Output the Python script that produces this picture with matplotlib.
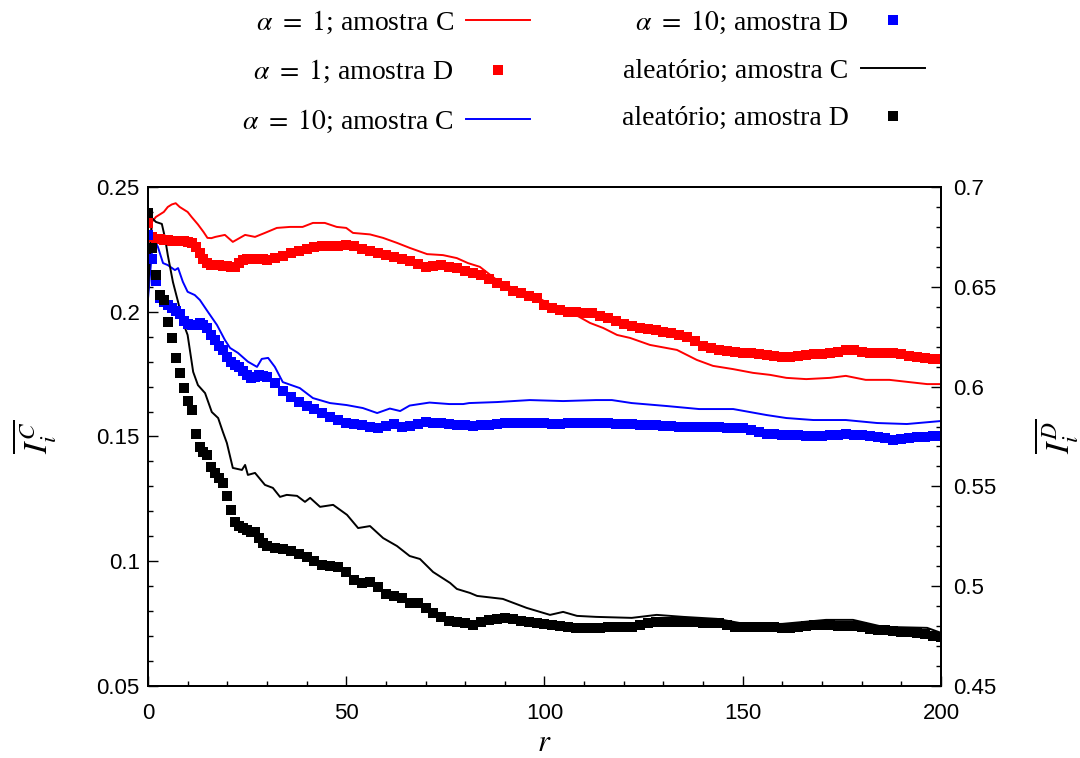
import matplotlib
matplotlib.use('Agg')
import matplotlib.pyplot as plt
from matplotlib.ticker import MultipleLocator, FuncFormatter

plt.rcParams['font.family'] = ['Liberation Serif', 'DejaVu Serif']
plt.rcParams['mathtext.fontset'] = 'stix'

# amostra C (eixo esquerdo), linhas
r_a1_C = [0, 1, 2, 3, 4, 5, 6, 7, 8, 9, 10, 11, 12.6, 14, 15, 16, 17, 19.4, 21.4, 24.5, 27, 29.5,
          32.5, 35.8, 39, 41.6, 44.6, 47.6, 50, 51.7, 56, 59.3, 62.8, 66, 70.4, 74.4, 77.9, 80.7,
          83.7, 88, 93, 98, 103, 107, 111.5, 114.8, 118.3, 121.6, 126.6, 133.4, 138.4, 142.5,
          147.6, 152.6, 156.9, 161, 166, 172, 176, 181, 187, 192, 196.5, 200]
Ic_a1 = [0.215, 0.236, 0.238, 0.239, 0.240, 0.242, 0.243, 0.2435, 0.242, 0.241, 0.240, 0.238,
         0.235, 0.232, 0.2296, 0.2295, 0.230, 0.2308, 0.228, 0.2308, 0.230, 0.2316,
         0.2336, 0.234, 0.234, 0.2356, 0.2356, 0.234, 0.2336, 0.2316, 0.231, 0.2296, 0.2276,
         0.2256, 0.2231, 0.2227, 0.2215, 0.2195, 0.218, 0.2127, 0.2087, 0.206, 0.2015, 0.1995,
         0.1955, 0.1935, 0.1907, 0.1895, 0.1867, 0.1847, 0.1807, 0.1783, 0.177, 0.1755,
         0.1747, 0.1735, 0.173, 0.1735, 0.1743, 0.1727, 0.1727, 0.1718, 0.171, 0.171]

r_a10_C = [0, 1, 2, 2.5, 3.8, 5, 6.8, 7.6, 8.8, 10, 11.8, 13.1, 15.1, 17.4, 19.4, 20.7, 22.7,
           25.2, 27.5, 28.7, 30.3, 32, 34, 38.3, 41.6, 45.9, 50.1, 54.2, 57.8, 61, 63.6, 66,
           71, 76, 79.5, 81, 88, 96.3, 104.7, 113, 117, 122, 130.9, 139, 147.6, 156, 161,
           167.8, 176, 183.9, 191.4, 200]
Ic_a10 = [0.205, 0.224, 0.2276, 0.226, 0.2195, 0.2187, 0.2167, 0.2175, 0.212, 0.208, 0.2067,
          0.2047, 0.200, 0.1947, 0.1887, 0.1855, 0.1835, 0.180, 0.1779, 0.1811, 0.1815,
          0.1779, 0.1718, 0.1694, 0.1654, 0.1634, 0.1626, 0.1614, 0.1594, 0.1612, 0.1602,
          0.1624, 0.1636, 0.163, 0.163, 0.1634, 0.1638, 0.1646, 0.1642, 0.1646, 0.1646,
          0.1634, 0.1622, 0.161, 0.161, 0.1586, 0.1574, 0.1566, 0.1566, 0.1554, 0.155, 0.1562]

r_ale_C = [0, 1, 2, 3.5, 4.3, 5, 6.3, 7.6, 8.8, 10, 11.4, 12.6, 14.4, 16.1, 17.7, 18.9, 19.9,
           21.4, 23.7, 24.5, 25.2, 27, 29.5, 31.5, 33.3, 35, 37.6, 39.6, 40.9, 43.4, 46.7,
           50.2, 53, 56, 59.3, 62.8, 66, 68.6, 71.9, 76.2, 77.9, 81.2, 83, 89.5, 95.5, 101.4,
           104.7, 108.2, 113, 122, 128.3, 135, 143.5, 151.8, 160, 171, 177.8, 185.4, 196.5, 200]
Ic_ale = [0.207, 0.2376, 0.236, 0.2352, 0.2296, 0.2227, 0.2119, 0.2039, 0.1959, 0.1907,
          0.1759, 0.1706, 0.1674, 0.1598, 0.1574, 0.1518, 0.1474, 0.1374, 0.1366, 0.1386,
          0.1346, 0.1354, 0.1306, 0.1294, 0.1258, 0.1266, 0.1262, 0.1238, 0.1254, 0.1218,
          0.1226, 0.1186, 0.1133, 0.1141, 0.1093, 0.1061, 0.1021, 0.1009, 0.0957, 0.0913,
          0.0889, 0.0873, 0.0861, 0.0849, 0.0813, 0.0785, 0.0797, 0.0781, 0.0777, 0.0773,
          0.0785, 0.0777, 0.0769, 0.0745, 0.0749, 0.0765, 0.0765, 0.0737, 0.0733, 0.0713]

# amostra D (eixo direito), quadrados
r_D = list(range(0, 31)) + list(range(32, 201, 2))
Id_a1 = [0.682, 0.675, 0.674, 0.674, 0.6735, 0.6735, 0.673, 0.673, 0.673, 0.673, 0.6725,
         0.672, 0.670, 0.667, 0.664, 0.662, 0.661, 0.661, 0.661, 0.6605, 0.6605, 0.660,
         0.660, 0.662, 0.6635, 0.664, 0.664, 0.664, 0.664, 0.6638, 0.6636,
         0.6642, 0.6655, 0.6668, 0.668, 0.669, 0.6698, 0.6704, 0.6706, 0.6706, 0.671,
         0.6705, 0.6688, 0.668, 0.667, 0.666, 0.665, 0.664, 0.663, 0.6615, 0.660,
         0.6602, 0.661, 0.660, 0.6594, 0.658, 0.657, 0.656, 0.654, 0.652, 0.6502,
         0.648, 0.647, 0.6455, 0.6444, 0.641, 0.6394, 0.6385, 0.6375, 0.6372, 0.637,
         0.6368, 0.6355, 0.6345, 0.633, 0.6315, 0.6305, 0.6296, 0.629, 0.6282, 0.6276,
         0.627, 0.6258, 0.6248, 0.623, 0.6205, 0.6192, 0.6185, 0.6178, 0.6173, 0.617,
         0.6168, 0.6165, 0.6158, 0.6152, 0.6148, 0.615, 0.6154, 0.6158, 0.6162, 0.6165,
         0.6168, 0.6175, 0.6182, 0.6183, 0.6172, 0.6168, 0.6168, 0.6168, 0.6168, 0.6162,
         0.6155, 0.6148, 0.6143, 0.614, 0.6138]
Id_a10 = [0.676, 0.664, 0.653, 0.6445, 0.6424, 0.641, 0.6394, 0.638, 0.6365, 0.633, 0.6315,
          0.631, 0.631, 0.6318, 0.631, 0.6295, 0.626, 0.6234, 0.6205, 0.6185, 0.615, 0.6124,
          0.611, 0.6098, 0.608, 0.606, 0.6043, 0.6048, 0.6058, 0.6055, 0.6048,
          0.602, 0.598, 0.595, 0.5925, 0.5905, 0.5888, 0.5868, 0.585, 0.5832, 0.582,
          0.5812, 0.5806, 0.580, 0.5793, 0.5805, 0.5812, 0.580, 0.5805, 0.5815, 0.5822,
          0.582, 0.5818, 0.5815, 0.581, 0.5806, 0.5803, 0.5806, 0.581, 0.5813, 0.5816,
          0.5818, 0.582, 0.582, 0.5818, 0.5816, 0.5815, 0.5815, 0.5816, 0.5818, 0.582,
          0.582, 0.5818, 0.5816, 0.5815, 0.5814, 0.5812, 0.581, 0.5808, 0.5806, 0.5805,
          0.5803, 0.580, 0.5798, 0.5798, 0.5797, 0.5796, 0.5796, 0.5795, 0.5795, 0.5793,
          0.5785, 0.5775, 0.5765, 0.576, 0.5758, 0.5756, 0.5755, 0.5754, 0.5753, 0.5753,
          0.5756, 0.5758, 0.576, 0.5757, 0.5755, 0.575, 0.5745, 0.574, 0.5733, 0.5735,
          0.574, 0.5745, 0.5748, 0.575, 0.5753]
Id_ale = [0.687, 0.6694, 0.6559, 0.6459, 0.6434, 0.6324, 0.6243, 0.6143, 0.6068, 0.5993,
          0.5928, 0.5883, 0.5763, 0.5697, 0.5672, 0.5657, 0.5597, 0.5567, 0.5542, 0.5517,
          0.5452, 0.5382, 0.5322, 0.5302, 0.5292, 0.5282, 0.5272, 0.5272, 0.5242, 0.5216,
          0.5201,
          0.519, 0.5185, 0.5175, 0.516, 0.5145, 0.5125, 0.5105, 0.5103, 0.5095, 0.507,
          0.503, 0.5018, 0.502, 0.4995, 0.496, 0.495, 0.4942, 0.4918, 0.4918, 0.489,
          0.4865, 0.4845, 0.4828, 0.482, 0.4816, 0.4808, 0.482, 0.4832, 0.4838, 0.4842,
          0.4838, 0.4828, 0.4822, 0.4815, 0.481, 0.4806, 0.4802, 0.4795, 0.479, 0.479,
          0.4792, 0.4792, 0.4795, 0.4797, 0.4797, 0.4797, 0.4805, 0.4815, 0.482, 0.4822,
          0.482, 0.482, 0.4822, 0.482, 0.4818, 0.4816, 0.4814, 0.4805, 0.4798, 0.4796,
          0.4796, 0.4796, 0.4796, 0.4794, 0.479, 0.479, 0.4795, 0.480, 0.4805, 0.4806,
          0.4805, 0.4802, 0.480, 0.480, 0.4795, 0.4788, 0.4783, 0.478, 0.4776, 0.4772,
          0.4768, 0.4765, 0.476, 0.4752, 0.4746]

labels = [r'$\alpha\ =\ 1$; amostra C', r'$\alpha\ =\ 1$; amostra D', r'$\alpha\ =\ 10$; amostra C',
          r'$\alpha\ =\ 10$; amostra D', 'aleatório; amostra C', 'aleatório; amostra D']

fig = plt.figure(figsize=(10.8, 7.58), dpi=100)
ax = fig.add_axes([0.137, 0.095, 0.7343, 0.6583])
ax2 = ax.twinx()

lw = 1.4
ms = 7.4
l1, = ax.plot(r_a1_C, Ic_a1, color='#ff0000', lw=lw)
l2, = ax.plot(r_a10_C, Ic_a10, color='#0000ff', lw=lw)
l3, = ax.plot(r_ale_C, Ic_ale, color='black', lw=lw)
s1, = ax2.plot(r_D, Id_a1, 's', color='#ff0000', ms=ms, mew=0)
s2, = ax2.plot(r_D, Id_a10, 's', color='#0000ff', ms=ms, mew=0)
s3, = ax2.plot(r_D, Id_ale, 's', color='black', ms=ms, mew=0)

ax.set_xlim(0, 200)
ax.set_ylim(0.05, 0.25)
ax2.set_ylim(0.45, 0.7)

fmt = FuncFormatter(lambda v, p: '%g' % round(v, 4))
ax.xaxis.set_major_locator(MultipleLocator(50))
ax.xaxis.set_minor_locator(MultipleLocator(10))
ax.yaxis.set_major_locator(MultipleLocator(0.05))
ax.yaxis.set_minor_locator(MultipleLocator(0.01))
ax2.yaxis.set_major_locator(MultipleLocator(0.05))
ax2.yaxis.set_minor_locator(MultipleLocator(0.01))
for a in (ax.xaxis, ax.yaxis, ax2.yaxis):
    a.set_major_formatter(fmt)

for a in (ax, ax2):
    a.tick_params(which='both', direction='in', width=1.0, labelsize=16,
                  labelfontfamily='Liberation Sans')
    a.tick_params(which='major', length=7)
    a.tick_params(which='minor', length=3.6)
    for s in a.spines.values():
        s.set_linewidth(1.4)
ax.tick_params(axis='y', pad=6)
ax.tick_params(axis='x', pad=12)
ax2.tick_params(axis='y', pad=9)

ax.set_xlabel(r'$r$', fontsize=22, labelpad=4)
ax.set_ylabel(r'$\overline{I_i^C}$', fontsize=24, labelpad=27)
ax2.set_ylabel(r'$\overline{I_i^D}$', fontsize=24, labelpad=26)

fig.legend([l1, s1, l2, s2, l3, s3], labels, loc='upper center', bbox_to_anchor=(0.54, 1.003),
           ncol=2, frameon=False, markerfirst=False, fontsize=20, handlelength=2.3,
           handletextpad=0.45, columnspacing=3.3, labelspacing=0.8, borderaxespad=0)

fig.savefig('out.png', dpi=100)
